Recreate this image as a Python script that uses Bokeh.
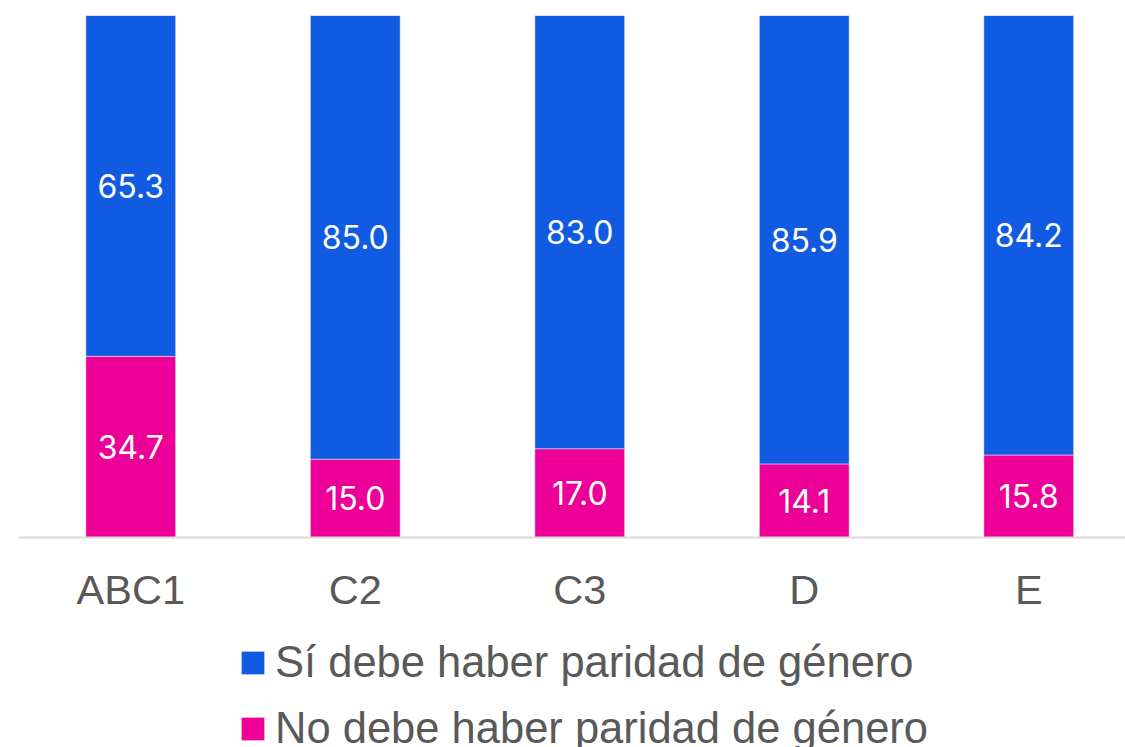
from bokeh.plotting import figure
from bokeh.models import ColumnDataSource, Range1d, Legend, LegendItem, LabelSet, Span
from bokeh.core.properties import value
from bokeh.embed import file_html
from bokeh.resources import INLINE

categories = ["ABC1", "C2", "C3", "D", "E"]
si_values = [65.3, 85.0, 83.0, 85.9, 84.2]
no_values = [34.7, 15.0, 17.0, 14.1, 15.8]
series_names = ["Sí debe haber paridad de género", "No debe haber paridad de género"]
colors = ["#115AE2", "#EC0098"]

xs = list(range(len(categories)))
src = ColumnDataSource(dict(
    x=xs,
    no=no_values,
    si=si_values,
    base=[0] * len(xs),
    cat=categories,
    no_mid=[n / 2 for n in no_values],
    si_mid=[n + s / 2 for n, s in zip(no_values, si_values)],
    no_txt=["%.1f" % v for v in no_values],
    si_txt=["%.1f" % v for v in si_values],
))

W, H = 1125, 747
left_border, top_border = 18, 15
frame_w = W - left_border
frame_h = H - top_border
cat_px = 224.5          # pixels per category
px_per_unit = 5.22      # pixels per percentage point
y_top = 100
y_bottom = y_top - frame_h / px_per_unit

p = figure(width=W, height=H, output_backend="svg", toolbar_location=None,
           x_range=Range1d(-0.5, -0.5 + frame_w / cat_px), y_range=Range1d(y_bottom, y_top),
           min_border_left=left_border, min_border_right=0, min_border_top=top_border,
           min_border_bottom=0)
p.outline_line_color = None
p.grid.grid_line_color = None
p.xaxis.visible = False
p.yaxis.visible = False

rs = p.vbar_stack(["no", "si"], x="x", width=0.4, source=src,
                  color=[colors[1], colors[0]], line_color="white", line_alpha=0.45, line_width=1)

# category axis line and labels
p.add_layout(Span(location=0, dimension="width", line_color="#D9D9D9", line_width=2))
p.text(x="x", y="base", text="cat", source=src, text_align="center", text_baseline="top",
       y_offset=28, text_font=value("Liberation Sans"), text_font_size="41.5px",
       text_color="#595959")

for ycol, tcol in (("no_mid", "no_txt"), ("si_mid", "si_txt")):
    p.add_layout(LabelSet(x="x", y=ycol, text=tcol, source=src, text_align="center",
                          text_baseline="middle", text_color="white", text_font=value("Inter"),
                          text_font_size="32px"))

legend = Legend(items=[LegendItem(label=series_names[0], renderers=[rs[1]]),
                       LegendItem(label=series_names[1], renderers=[rs[0]])],
                location=(220, -6), orientation="vertical",
                glyph_width=29, glyph_height=29, label_standoff=8,
                label_text_font="Liberation Sans", label_text_font_size="43.5px",
                label_text_color="#595959", label_height=50, spacing=16,
                padding=0, margin=0, border_line_color=None, background_fill_alpha=0)
p.add_layout(legend, "center")

open("out.html", "w").write(file_html(p, INLINE))
